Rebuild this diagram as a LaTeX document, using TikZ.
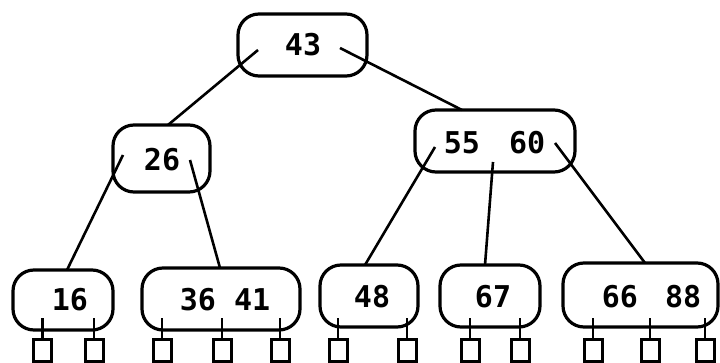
\documentclass[tikz,border=0pt]{standalone}
\usepackage{fontspec}
\newfontfamily\treefont{DejaVu Sans Mono}
\begin{document}
\begin{tikzpicture}[x=1pt,y=-1pt,
  keybox/.style={draw=black, line width=3.2pt, rounded corners=21pt, inner sep=0pt},
  keytxt/.style={font=\treefont\bfseries\fontsize{30}{30}\selectfont, inner sep=0pt, anchor=center},
  leafsq/.style={draw=black, line width=3pt, minimum width=18pt, minimum height=22pt, inner sep=0pt, anchor=north},
  edge/.style={draw=black, line width=2.6pt},
  stem/.style={draw=black, line width=2.6pt}]
\fill[white] (0,0) rectangle (720,363);
\useasboundingbox (0,0) rectangle (720,363);

% boxes
\node[keybox, minimum width=129pt, minimum height=62pt] (root) at (302.5,45) {};
\node[keybox, minimum width=97pt, minimum height=67pt] (b26) at (161.5,158.5) {};
\node[keybox, minimum width=160pt, minimum height=62pt] (b5560) at (495,141) {};
\node[keybox, minimum width=100pt, minimum height=60pt] (b16) at (63,300) {};
\node[keybox, minimum width=158pt, minimum height=62pt] (b3641) at (221,299) {};
\node[keybox, minimum width=98pt, minimum height=62pt] (b48) at (369,296) {};
\node[keybox, minimum width=100pt, minimum height=62pt] (b67) at (490,296) {};
\node[keybox, minimum width=155pt, minimum height=64pt] (b6688) at (640.5,295) {};

% texts
\node[keytxt] (t43) at (303,45) {43};
\node[keytxt] (t26) at (162,160) {26};
\node[keytxt] (t5560) at (494.5,143) {55\hspace{11pt} 60};
\node[keytxt] (t16) at (70,300) {16};
\node[keytxt] (t3641) at (225,300) {36 41};
\node[keytxt] (t48) at (372,297) {48};
\node[keytxt] (t67) at (493,297) {67};
\node[keytxt] (t6688) at (651.5,297) {66\hspace{9pt} 88};

% connector start points inside parents
\coordinate (rL) at (258,50);
\coordinate (rR) at (340,48);
\coordinate (a26L) at (123,155);
\coordinate (a26R) at (190,160);
\coordinate (aL) at (435,147);
\coordinate (aM) at (493,162);
\coordinate (aR) at (555,143);
% arrival points on children tops
\coordinate (e26) at (168,125);
\coordinate (e5560) at (462,110);
\coordinate (e16) at (67,270);
\coordinate (e3641) at (220,268);
\coordinate (e48) at (365,265);
\coordinate (e67) at (485,265);
\coordinate (e6688) at (645,263);

\draw[edge] (rL) -- (e26);
\draw[edge] (rR) -- (e5560);
\draw[edge] (a26L) -- (e16);
\draw[edge] (a26R) -- (e3641);
\draw[edge] (aL) -- (e48);
\draw[edge] (aM) -- (e67);
\draw[edge] (aR) -- (e6688);

% leaf pointer squares and stems
\foreach \n/\x in {s1/42.5, s2/94, s3/162, s4/222, s5/280, s6/338, s7/407, s8/470, s9/520, s10/593, s11/650, s12/705}{
  \node[leafsq] (\n) at (\x,338) {};
  \coordinate (\n top) at (\x,318);
  \draw[stem] (\n top) -- (\n.north);
}
\end{tikzpicture}
\end{document}
